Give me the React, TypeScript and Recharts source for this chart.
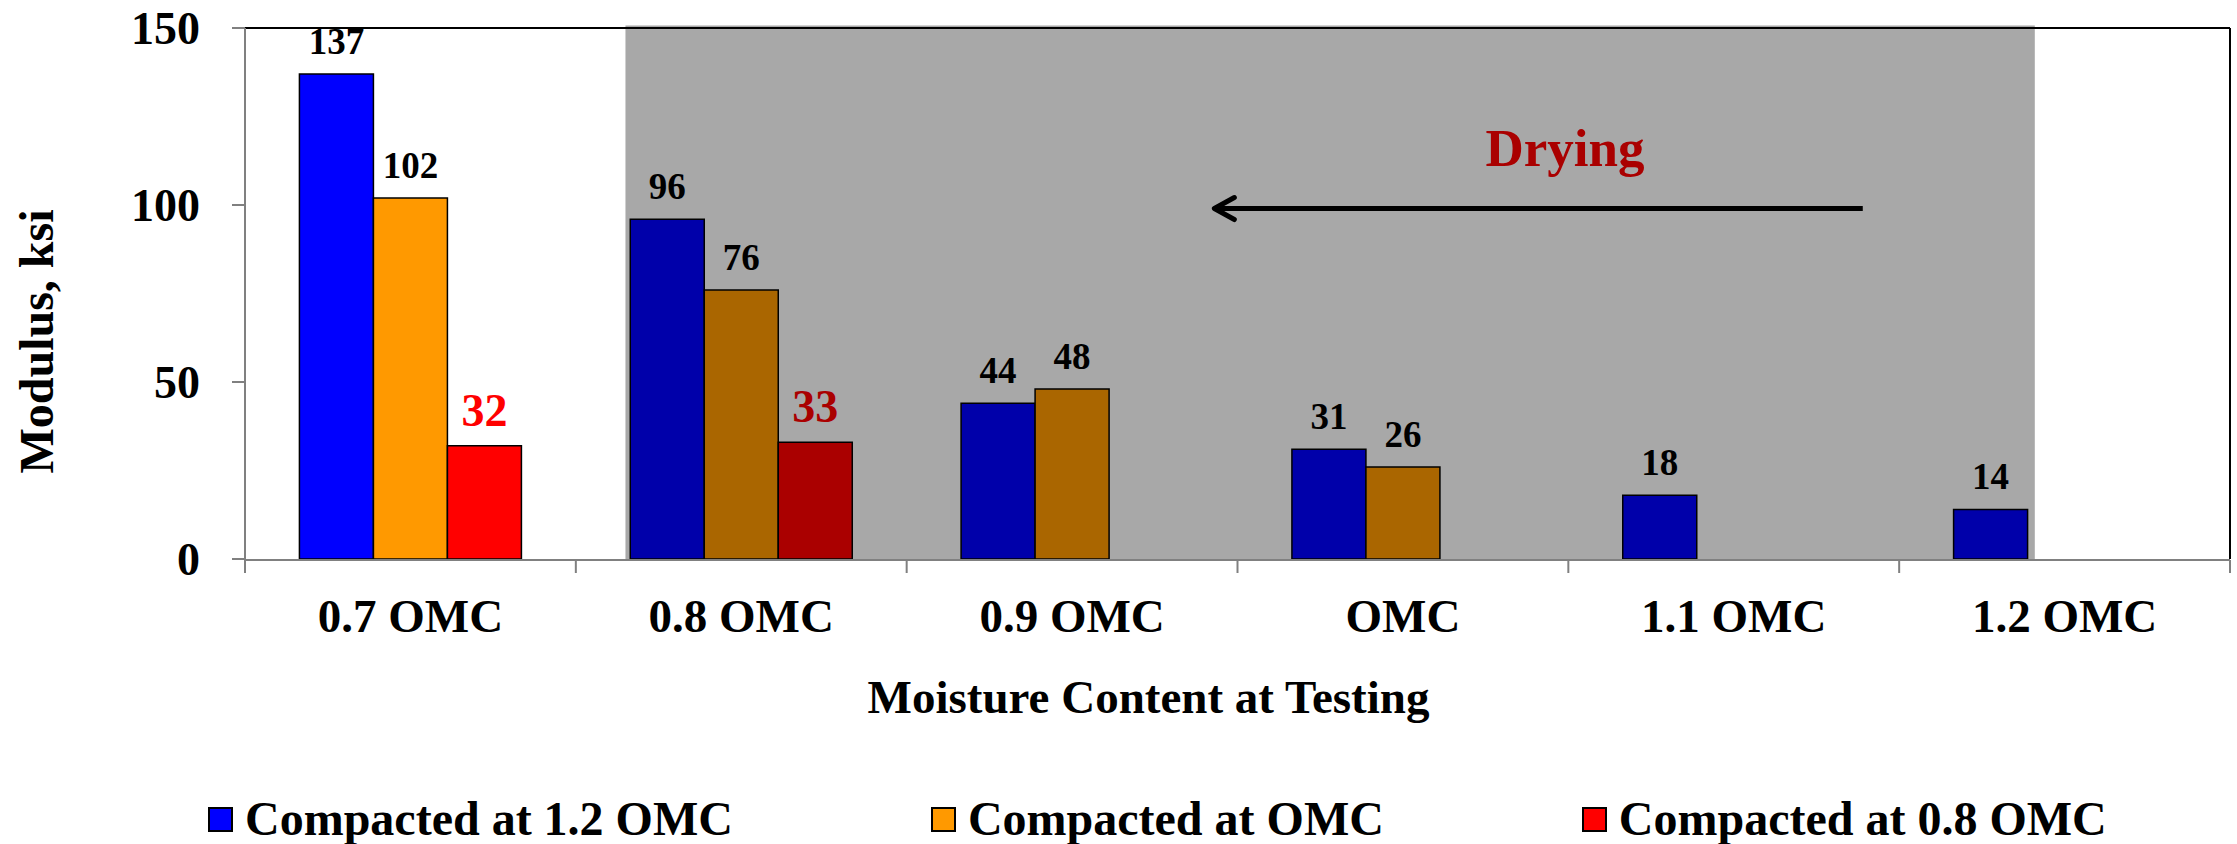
import React from "react";
import {
  BarChart,
  Bar,
  Cell,
  XAxis,
  YAxis,
  LabelList,
  Legend,
  ReferenceArea,
  ReferenceLine,
  ReferenceDot,
} from "recharts";

const FONT = '"Liberation Serif", "Times New Roman", Times, serif';

const categories = ["0.7 OMC", "0.8 OMC", "0.9 OMC", "OMC", "1.1 OMC", "1.2 OMC"];
const compactedAt12 = [137, 96, 44, 31, 18, 14];
const compactedAtOmc = [102, 76, 48, 26, null, null];
const compactedAt08 = [32, 33, null, null, null, null];
const yTicks = [0, 50, 100, 150];
const yDomain = [0, 150];
const slotTicks = [0, 1, 2, 3, 4, 5, 6];
const slotDomain = [0, 6];

// drying band + arrow, in category units on the "num" axis
const dryingBand = [1.15, 5.41];
const dryingArrow = [4.89, 2.93];
const dryingLevel = 99;
const dryingTextAt = { x: 3.99, y: 111 };

const series = [
  { key: "c12", name: "Compacted at 1.2 OMC", color: "#0000ff", shade: "#0000aa", label: "#000", labelShade: "#000", labelSize: 37 },
  { key: "cOmc", name: "Compacted at OMC", color: "#ff9900", shade: "#aa6600", label: "#000", labelShade: "#000", labelSize: 37 },
  { key: "c08", name: "Compacted at 0.8 OMC", color: "#ff0000", shade: "#aa0000", label: "#ff0000", labelShade: "#aa0000", labelSize: 46 },
];

const data = categories.map((name, i) => ({
  name,
  c12: compactedAt12[i],
  cOmc: compactedAtOmc[i],
  c08: compactedAt08[i],
}));

// categories overlapping the grey drying band come out darker
const inBand = (i: number) => i + 1 > dryingBand[0] && i < dryingBand[1];

const valueLabel = (s: (typeof series)[number]) => (props: any) => {
  const { value, index } = props;
  const vb = props.viewBox ?? props;
  if (value == null || vb == null || vb.x == null) return null;
  return (
    <text
      x={vb.x + vb.width / 2}
      y={vb.y - 20}
      textAnchor="middle"
      fill={inBand(index) ? s.labelShade : s.label}
      fontSize={s.labelSize}
      fontWeight={700}
      fontFamily={FONT}
    >
      {value}
    </text>
  );
};

const YTitle = ({ viewBox }: any) => {
  const cx = viewBox.x + 53;
  const cy = viewBox.y + viewBox.height / 2 + 48;
  return (
    <text
      x={cx}
      y={cy}
      transform={`rotate(-90 ${cx} ${cy})`}
      textAnchor="middle"
      fill="#000"
      fontSize={48}
      fontWeight={700}
      fontFamily={FONT}
    >
      Modulus, ksi
    </text>
  );
};

// both bottom axes are 1px tall, so the title is placed from the axis top
const XTitle = ({ viewBox }: any) => (
  <text
    x={viewBox.x + viewBox.width / 2 - 89}
    y={viewBox.y + 154}
    textAnchor="middle"
    fill="#000"
    fontSize={47}
    fontWeight={700}
    fontFamily={FONT}
  >
    Moisture Content at Testing
  </text>
);

const DryingArrow = (props: any) => {
  const { x1, y1, x2, y2 } = props;
  return (
    <g>
      <line x1={x1} y1={y1} x2={x2 + 2} y2={y2} stroke="#000" strokeWidth={5} />
      <polyline
        points={`${x2 + 20},${y2 - 11} ${x2},${y2} ${x2 + 20},${y2 + 11}`}
        fill="none"
        stroke="#000"
        strokeWidth={5}
        strokeLinecap="round"
        strokeLinejoin="round"
      />
    </g>
  );
};

const DryingText = ({ cx, cy }: any) => (
  <text x={cx} y={cy} textAnchor="middle" fill="#aa0000" fontSize={53} fontWeight={700} fontFamily={FONT}>
    Drying
  </text>
);

// slot axis only draws tick marks between categories, no text
const NoTickText = () => <g />;

// legend keeps the series order (recharts sorts its payload by name)
const renderLegend = () => (
  <div style={{ display: "flex", alignItems: "center", gap: 198, height: 50 }}>
    {series.map((s) => (
      <div key={s.key} style={{ display: "flex", alignItems: "center" }}>
        <span
          style={{
            display: "inline-block",
            width: 25,
            height: 25,
            background: s.color,
            border: "2px solid #000",
            boxSizing: "border-box",
            marginRight: 12,
          }}
        />
        <span
          style={{
            fontFamily: FONT,
            fontWeight: 700,
            fontSize: 48,
            lineHeight: "50px",
            color: "#000",
            whiteSpace: "nowrap",
          }}
        >
          {s.name}
        </span>
      </div>
    ))}
  </div>
);

const axisStroke = { stroke: "#808080", strokeWidth: 2 };
const tickFont = { fill: "#000", fontWeight: 700, fontFamily: FONT };

export default function App() {
  return (
    <div style={{ position: "absolute", left: 0, top: 0, width: 2237, height: 844, overflow: "hidden", background: "#fff" }}>
      <BarChart
        width={2237}
        height={844}
        data={data}
        margin={{ top: 28, right: 7, bottom: 233, left: 0 }}
        barCategoryGap="16.45%"
        barGap={0}
      >
        <XAxis
          xAxisId="num"
          dataKey="slot"
          type="number"
          domain={slotDomain}
          allowDataOverflow
          ticks={slotTicks}
          interval={0}
          tick={NoTickText}
          tickSize={13}
          height={1}
          axisLine={axisStroke}
          tickLine={axisStroke}
        />
        <XAxis
          xAxisId="cat"
          dataKey="name"
          type="category"
          height={1}
          interval={0}
          tickLine={false}
          axisLine={false}
          tickSize={0}
          tickMargin={40}
          tick={{ ...tickFont, fontSize: 47 }}
          label={XTitle}
        />
        <YAxis
          width={245}
          domain={yDomain}
          ticks={yTicks}
          interval={0}
          tickSize={13}
          tickMargin={32}
          axisLine={axisStroke}
          tickLine={axisStroke}
          tick={{ ...tickFont, fontSize: 46 }}
          label={YTitle}
        />
        <ReferenceArea
          xAxisId="num"
          x1={dryingBand[0]}
          x2={dryingBand[1]}
          y1={0}
          y2={150.7}
          ifOverflow="visible"
          fill="#a8a8a8"
          fillOpacity={1}
          stroke="none"
        />
        {series.map((s) => (
          <Bar
            key={s.key}
            xAxisId="cat"
            dataKey={s.key}
            name={s.name}
            fill={s.color}
            stroke="#000"
            strokeWidth={1.5}
            isAnimationActive={false}
          >
            {categories.map((c, i) => (
              <Cell key={c} fill={inBand(i) ? s.shade : s.color} />
            ))}
            <LabelList dataKey={s.key} content={valueLabel(s)} />
          </Bar>
        ))}
        <ReferenceLine xAxisId="num" y={150} stroke="#000" strokeWidth={2} />
        <ReferenceLine xAxisId="num" x={6} stroke="#000" strokeWidth={2} />
        <ReferenceLine
          xAxisId="num"
          segment={[
            { x: dryingArrow[0], y: dryingLevel },
            { x: dryingArrow[1], y: dryingLevel },
          ]}
          shape={DryingArrow}
        />
        <ReferenceDot xAxisId="num" x={dryingTextAt.x} y={dryingTextAt.y} r={0} shape={DryingText} />
        <Legend verticalAlign="bottom" content={renderLegend} wrapperStyle={{ left: 208, bottom: 0, width: "auto" }} />
      </BarChart>
    </div>
  );
}
